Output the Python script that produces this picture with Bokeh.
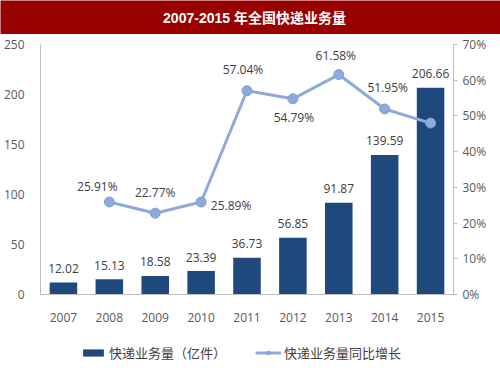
from bokeh.plotting import figure
from bokeh.models import (Range1d, LinearAxis, FixedTicker, PrintfTickFormatter,
                          Legend, LegendItem, Label, ColumnDataSource)
from bokeh.layouts import column
from bokeh.core.properties import value
from bokeh.embed import file_html
from bokeh.resources import INLINE

# ---- data ----
title_text = "2007-2015 年全国快递业务量"
years = ["2007", "2008", "2009", "2010", "2011", "2012", "2013", "2014", "2015"]
volume = [12.02, 15.13, 18.58, 23.39, 36.73, 56.85, 91.87, 139.59, 206.66]
volume_labels = ["12.02", "15.13", "18.58", "23.39", "36.73", "56.85", "91.87", "139.59", "206.66"]
growth_years = ["2008", "2009", "2010", "2011", "2012", "2013", "2014", "2015"]
growth = [25.91, 22.77, 25.89, 57.04, 54.79, 61.58, 51.95, 48.0]
growth_labels = ["25.91%", "22.77%", "25.89%", "57.04%", "54.79%", "61.58%", "51.95%", ""]
volume_ticks = [0, 50, 100, 150, 200, 250]
pct_ticks = [0, 10, 20, 30, 40, 50, 60, 70]
legend_labels = ["快递业务量（亿件）", "快递业务量同比增长"]

# ---- styles ----
BAR = "#1F497D"
LINE = "#8EAADB"
LINE_EDGE = "#7F9FD3"
TITLE_BG = "#990000"
NUM_FONT = value("Open Sans")
TICK_COLOR = "#595959"
LABEL_COLOR = "#404040"
growth_dx = [-12, 0, 30, -4, 1, -3, 3, 0]
growth_dy = [-15, -21, 3, -21, 19, -19, -21, 0]

# ---- title bar ----
tf = figure(width=500, height=34, x_range=Range1d(0, 1), y_range=Range1d(0, 1),
            x_axis_location=None, y_axis_location=None,
            min_border=0, toolbar_location=None, output_backend="svg",
            background_fill_color=TITLE_BG, border_fill_color=TITLE_BG,
            outline_line_color=None, frame_align=False)
tf.grid.visible = False
tf.add_layout(Label(x=254, y=17, x_units="screen", y_units="screen", text=title_text,
                    text_align="center", text_baseline="middle", text_color="white",
                    text_font_style="bold", text_font_size="14px",
                    text_font="Liberation Sans, Noto Sans CJK SC"))

# ---- main chart ----
p = figure(width=500, height=300, x_range=years, y_range=Range1d(0, 250),
           min_border_left=40, min_border_right=47, min_border_top=10, min_border_bottom=40,
           toolbar_location=None, output_backend="svg", outline_line_color=None)
p.extra_y_ranges = {"pct": Range1d(0, 70)}
p.grid.visible = False

p.yaxis.ticker = FixedTicker(ticks=volume_ticks)
for ax in (p.xaxis[0], p.yaxis[0]):
    ax.axis_line_color = "#BFBFBF"
    ax.major_tick_line_color = None
    ax.minor_tick_line_color = None
    ax.major_label_text_font = "Open Sans"
    ax.major_label_text_font_size = "12px"
    ax.major_label_text_color = TICK_COLOR
p.yaxis.major_label_standoff = 10
p.xaxis.major_label_standoff = 12

ax2 = LinearAxis(y_range_name="pct", ticker=FixedTicker(ticks=pct_ticks),
                 formatter=PrintfTickFormatter(format="%d%%"))
ax2.axis_line_color = "#BFBFBF"
ax2.major_tick_line_color = "#BFBFBF"
ax2.major_tick_out = 4
ax2.major_tick_in = 0
ax2.minor_tick_line_color = None
ax2.major_label_standoff = 5
ax2.major_label_text_font = "Open Sans"
ax2.major_label_text_font_size = "12px"
ax2.major_label_text_color = TICK_COLOR
p.add_layout(ax2, "right")

bsrc = ColumnDataSource(dict(x=years, top=volume, lab=volume_labels))
p.vbar(x="x", top="top", width=0.6, source=bsrc, fill_color=BAR, line_color=None)
p.text(x="x", y="top", text="lab", source=bsrc, y_offset=-14, text_align="center",
       text_baseline="middle", text_font=NUM_FONT, text_font_size="12px",
       text_color=LABEL_COLOR)

gsrc = ColumnDataSource(dict(x=growth_years, y=growth, lab=growth_labels,
                             dx=growth_dx, dy=growth_dy))
p.line(x="x", y="y", source=gsrc, y_range_name="pct", line_color=LINE, line_width=3)
p.scatter(x="x", y="y", source=gsrc, y_range_name="pct", size=10,
          fill_color=LINE, line_color=LINE_EDGE, line_width=1)
p.text(x="x", y="y", text="lab", source=gsrc, y_range_name="pct", x_offset="dx",
       y_offset="dy", text_align="center", text_baseline="middle", text_font=NUM_FONT,
       text_font_size="12px", text_color=LABEL_COLOR)

# ---- legend strip: same series, viewed through a range that shows only the keys ----
lf = figure(width=500, height=38, x_range=years, y_range=Range1d(1000, 1001),
            x_axis_location=None, y_axis_location=None,
            min_border=0, toolbar_location=None, output_backend="svg",
            outline_line_color=None, frame_align=False)
lf.grid.visible = False
kb = lf.vbar(x="x", top="top", width=0.6, source=bsrc, fill_color=BAR, line_color=None)
kl = lf.line(x="x", y="y", source=gsrc, line_color=LINE, line_width=3)
ks = lf.scatter(x="x", y="y", source=gsrc, size=10, fill_color=LINE, line_color=LINE_EDGE)
legend = Legend(items=[LegendItem(label=legend_labels[0], renderers=[kb]),
                       LegendItem(label=legend_labels[1], renderers=[kl, ks])],
                orientation="horizontal", location=(80, 10),
                border_line_color=None, background_fill_alpha=0,
                padding=0, margin=0, spacing=29, glyph_width=26, glyph_height=9,
                label_height=17, label_standoff=3,
                label_text_font="Noto Sans CJK SC", label_text_font_size="13px",
                label_text_color=LABEL_COLOR, label_text_baseline="middle")
lf.add_layout(legend, "center")

layout = column(tf, p, lf, spacing=0)

open("out.html", "w").write(file_html(layout, INLINE))
